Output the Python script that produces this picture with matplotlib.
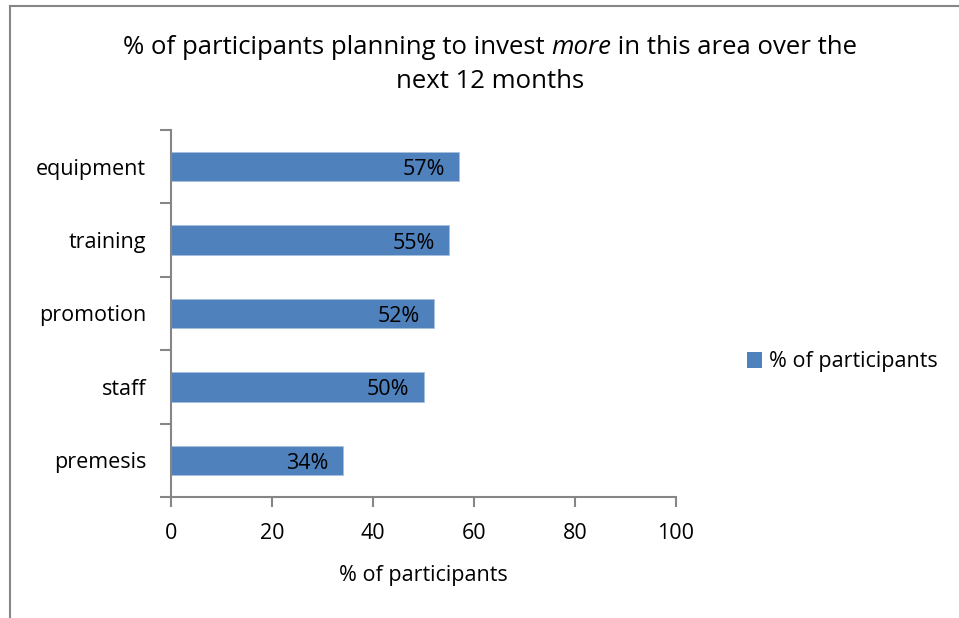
import matplotlib
matplotlib.use("Agg")
import matplotlib.pyplot as plt
from matplotlib.lines import Line2D
from matplotlib.patches import Patch

categories = ["premesis", "staff", "promotion", "training", "equipment"]
values = [34, 50, 52, 55, 57]
x_ticks = [0, 20, 40, 60, 80, 100]
series_name = "% of participants"

bar_color = "#4F81BD"
axis_color = "#868686"
plt.rcParams["font.family"] = ["Open Sans", "DejaVu Sans"]
fs = 15.5

W, H = 959, 618
fig = plt.figure(figsize=(W / 100, H / 100), dpi=100)

# outer chart border (runs off the right and bottom edges)
fig.add_artist(Line2D([9.5 / W, 9.5 / W], [0, 1 - 6 / H], transform=fig.transFigure,
                      color=axis_color, lw=1.5))
fig.add_artist(Line2D([9.5 / W, 1], [1 - 6 / H, 1 - 6 / H], transform=fig.transFigure,
                      color=axis_color, lw=1.5))

ax = fig.add_axes([171 / W, 1 - 497 / H, (676 - 171) / W, (497 - 130) / H])
y = range(len(categories))
bars = ax.barh(y, values, height=0.4, color=bar_color, edgecolor="#A7C0DE", lw=0.6)

for b, v in zip(bars, values):
    ax.annotate(f"{v}%", (v, b.get_y() + b.get_height() / 2), xytext=(-14, -3),
                textcoords="offset pixels", ha="right", va="center", fontsize=fs,
                color="black")

ax.set_xlim(0, 100)
ax.set_ylim(-0.5, len(categories) - 0.5)
ax.set_xticks(x_ticks)
ax.set_yticks(y)
ax.set_yticklabels(categories)
ax.set_yticks([i - 0.5 for i in range(len(categories) + 1)], minor=True)
ax.tick_params(axis="y", which="major", length=0, pad=18, labelsize=fs)
ax.tick_params(axis="y", which="minor", length=8, width=1.5, color=axis_color)
ax.tick_params(axis="x", length=7, width=1.5, color=axis_color, pad=12, labelsize=fs)
for s in ["top", "right"]:
    ax.spines[s].set_visible(False)
for s in ["left", "bottom"]:
    ax.spines[s].set_color(axis_color)
    ax.spines[s].set_linewidth(1.5)
ax.set_xlabel(series_name, fontsize=fs, labelpad=15)

fig.legend(handles=[Patch(facecolor=bar_color, label=series_name)],
           loc="center left", bbox_to_anchor=(728 / W, 1 - 362 / H), frameon=False,
           fontsize=fs, handlelength=0.7, handleheight=0.7, handletextpad=0.3)

# title, with "more" set in italics
fig.canvas.draw()
renderer = fig.canvas.get_renderer()
pieces = [("% of participants planning to invest ", "normal"),
          ("more", "italic"),
          (" in this area over the", "normal")]
title_size = 18.5
widths = []
for txt, style in pieces:
    t = fig.text(0, 0, txt, fontsize=title_size, style=style)
    widths.append(t.get_window_extent(renderer).width)
    t.remove()
cx, ty = 490, 1 - 47 / H
x0 = cx - sum(widths) / 2
for (txt, style), w in zip(pieces, widths):
    fig.text(x0 / W, ty, txt, fontsize=title_size, style=style, va="center")
    x0 += w
fig.text(cx / W, 1 - 81 / H, "next 12 months", fontsize=title_size, ha="center", va="center")

fig.savefig("out.png", dpi=100)
